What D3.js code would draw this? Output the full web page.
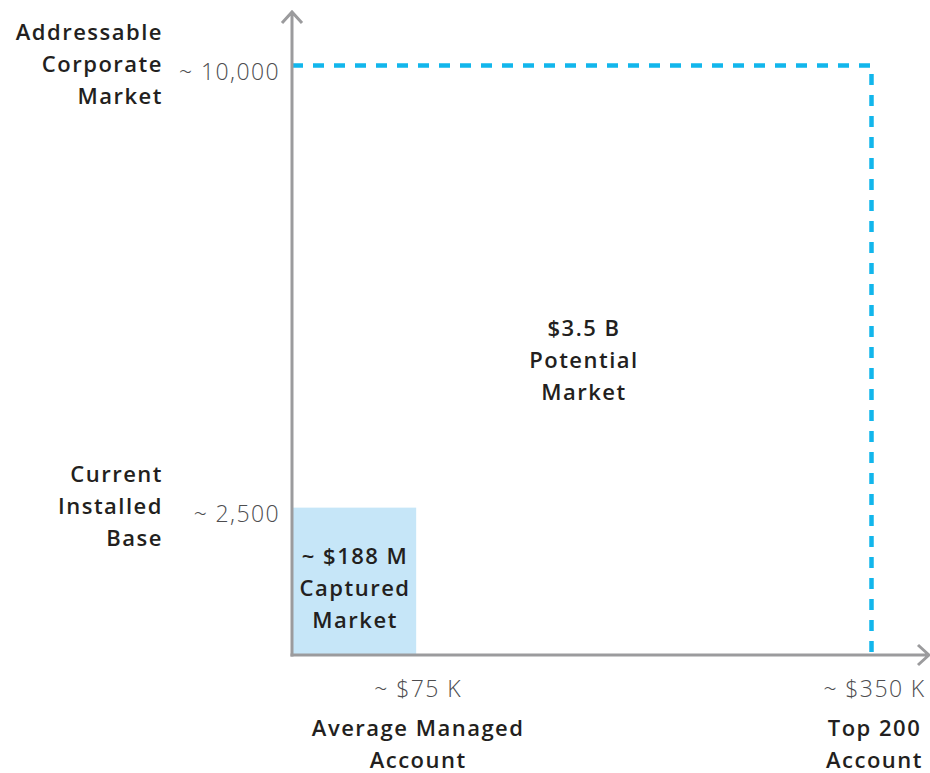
<!DOCTYPE html>
<html>
<head>
<meta charset="utf-8">
<script src="https://cdn.jsdelivr.net/npm/d3@7/dist/d3.min.js"></script>
<style>
  html, body { margin: 0; padding: 0; background: #fff; }
  svg { display: block; }
</style>
</head>
<body>
<svg id="chart" width="930" height="773"></svg>
<script>
// Market sizing: accounts (y) times revenue per account in $K (x)
const accountCounts = [2500, 10000];
const accountValuesK = [75, 350];
const xTickLabels = ["~ $75 K", "~ $350 K"];
const yTickLabels = ["~ 2,500", "~ 10,000"];
const xCategoryLabels = [["Average Managed", "Account"], ["Top 200", "Account"]];
const yCategoryLabels = [["Current", "Installed", "Base"], ["Addressable", "Corporate", "Market"]];
const marketLabels = [["~ $188 M", "Captured", "Market"], ["$3.5 B", "Potential", "Market"]];

const svg = d3.select("#chart");
const origin = { x: 292, y: 655 };

const x = d3.scaleLinear().domain([0, 350]).range([origin.x, 871.5]);
const y = d3.scaleLinear().domain([0, 10000]).range([origin.y, 65.5]);

const axisColor = "#9b9b9d";
const dashColor = "#12b6ec";
const textDark = "#231f20";
const textLight = "#4d4d4f";
const font = "'Open Sans', 'Noto Sans', sans-serif";

// Captured market: current installed base x average managed account
svg.append("rect")
  .attr("x", x(0))
  .attr("y", y(accountCounts[0]))
  .attr("width", x(accountValuesK[0]) - x(0))
  .attr("height", y(0) - y(accountCounts[0]))
  .attr("fill", "#c6e6f8");

// Potential market outline: addressable market x top-200 account value
svg.append("path")
  .attr("d", d3.line()([
    [x(0), y(accountCounts[1])],
    [x(accountValuesK[1]), y(accountCounts[1])],
    [x(accountValuesK[1]), y(0)]
  ]))
  .attr("fill", "none")
  .attr("stroke", dashColor)
  .attr("stroke-width", 4.5)
  .attr("stroke-dasharray", "11,10");

// Axes with open arrowheads
const axes = svg.append("g")
  .attr("fill", "none")
  .attr("stroke", axisColor)
  .attr("stroke-width", 3);
axes.append("path")
  .attr("d", `M${origin.x},${origin.y + 1.5} V12 M${origin.x - 10},23 L${origin.x},12 L${origin.x + 10},23`);
axes.append("path")
  .attr("d", `M${origin.x - 1.5},${origin.y} H929 M918,${origin.y - 10} L929,${origin.y} L918,${origin.y + 10}`);

// Tick labels
svg.selectAll("text.xtick")
  .data(accountValuesK)
  .join("text")
  .attr("class", "xtick")
  .attr("x", (d, i) => x(d) + (i === 1 ? 3 : 2))
  .attr("y", 697)
  .attr("text-anchor", "middle")
  .attr("font-family", font)
  .attr("font-weight", 300)
  .attr("font-size", 23)
  .attr("letter-spacing", 1.4)
  .attr("fill", textLight)
  .text((d, i) => xTickLabels[i]);

svg.selectAll("text.ytick")
  .data(accountCounts)
  .join("text")
  .attr("class", "ytick")
  .attr("x", 280)
  .attr("y", d => y(d) + 14)
  .attr("text-anchor", "end")
  .attr("font-family", font)
  .attr("font-weight", 300)
  .attr("font-size", 23)
  .attr("letter-spacing", 1.4)
  .attr("fill", textLight)
  .text((d, i) => yTickLabels[i]);

// Multi-line label helper
function block(lines, cx, cy, anchor) {
  const lh = 32;
  const t = svg.append("text")
    .attr("text-anchor", anchor)
    .attr("font-family", font)
    .attr("font-weight", 600)
    .attr("font-size", 22)
    .attr("letter-spacing", 1.5)
    .attr("fill", textDark);
  lines.forEach((s, i) => {
    t.append("tspan")
      .attr("x", cx)
      .attr("y", cy + (i - (lines.length - 1) / 2) * lh + 7)
      .text(s);
  });
}

// Category labels under the x axis
accountValuesK.forEach((v, i) => block(xCategoryLabels[i], x(v) + (i === 1 ? 3 : 2), 745, "middle"));
// Category labels left of the y axis
accountCounts.forEach((v, i) => block(yCategoryLabels[i], 163, y(v) - 1, "end"));

// Market size labels
block(marketLabels[0], (x(0) + x(accountValuesK[0])) / 2 + 1, 589, "middle");
block(marketLabels[1], 584, 361, "middle");
</script>
</body>
</html>
